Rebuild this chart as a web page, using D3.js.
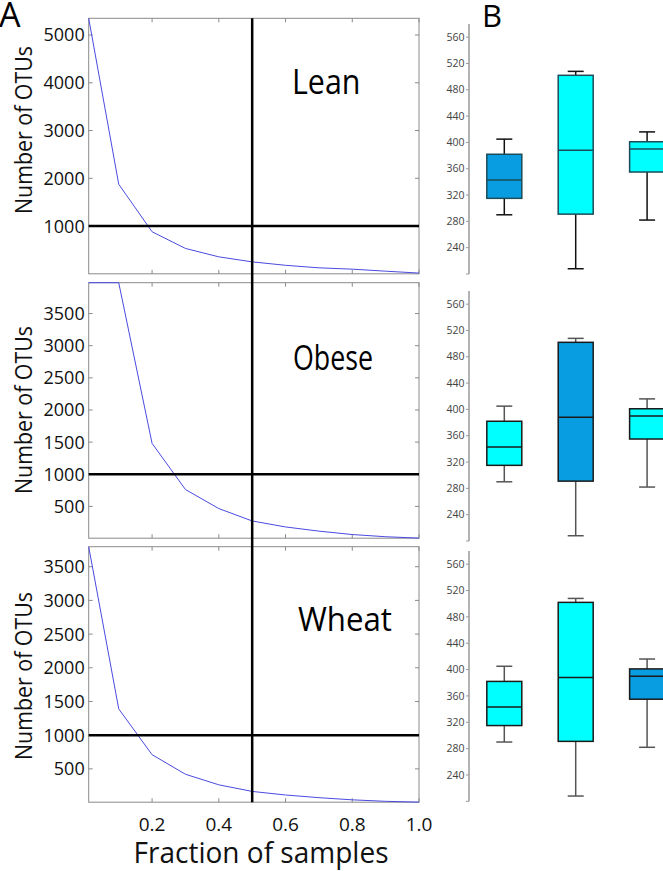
<!DOCTYPE html>
<html>
<head>
<meta charset="utf-8">
<script src="https://cdn.jsdelivr.net/npm/d3@7"></script>
<style>
  html, body { margin: 0; padding: 0; background: #fff; }
  svg { display: block; }
  text { font-family: "Open Sans", "Noto Sans", sans-serif; }
</style>
</head>
<body>
<svg id="chart" width="663" height="871"></svg>
<script>
// ---------- DATA ----------
const fractions = [0.01, 0.1, 0.2, 0.3, 0.4, 0.5, 0.6, 0.7, 0.8, 0.9, 1.0];
const leanOTUs  = [5350, 1876, 880, 531, 355, 250, 178, 125, 97, 55, 15];
const obeseOTUs = [6500, 4100, 1480, 762, 466, 273, 180, 115, 62, 28, 6];
const wheatOTUs = [3797, 1390, 710, 420, 263, 165, 112, 72, 40, 18, 6];
const groupNames = ["Lean", "Obese", "Wheat"];
const yDomainsA = [[0, 5350], [5, 3980], [5, 3797]];
const yTicksLean = [1000, 2000, 3000, 4000, 5000];
const yTicksObese = [500, 1000, 1500, 2000, 2500, 3000, 3500];
const yTicksWheat = [500, 1000, 1500, 2000, 2500, 3000, 3500];
const xTicks = [0.2, 0.4, 0.6, 0.8, 1.0];
const xTickLabels = ["0.2", "0.4", "0.6", "0.8", "1.0"];
const otuThreshold = 1000;
const fractionCut = 0.5;

const boxCategories = ["G1", "G2", "G3"];
const boxMin = [290, 208, 282];
const boxQ1  = [315, 291, 355];
const boxMed = [343, 388, 390];
const boxQ3  = [382, 502, 401];
const boxMax = [405, 508, 416];
const bTicks = [200, 240, 280, 320, 360, 400, 440, 480, 520, 560];
const bDomain = [200, 580];

// ---------- LAYOUT ----------
const svg = d3.select("#chart");
const xL = 88.7, xR = 419;
const panelTops = [18.3, 282.7, 546.7];
const panelH = 255.5;
const seriesA = [leanOTUs, obeseOTUs, wheatOTUs];
const ticksA = [yTicksLean, yTicksObese, yTicksWheat];
const labelCY = [130, 410, 676];
const nameBox = [
  {x: 292, y: 94, w: 68.5, fs: 35},
  {x: 293, y: 370, w: 80, fs: 35},
  {x: 298, y: 631, w: 94, fs: 33}
];
const frameColor = "#8a8a8a";

const x = d3.scaleLinear().domain([0.01, 1.0]).range([xL, xR]);

seriesA.forEach((vals, i) => {
  const top = panelTops[i], bot = top + panelH;
  const y = d3.scaleLinear().domain(yDomainsA[i]).range([bot, top]).clamp(true);
  const g = svg.append("g");

  // frame
  g.append("rect").attr("x", xL).attr("y", top).attr("width", xR - xL).attr("height", panelH)
    .attr("fill", "none").attr("stroke", frameColor).attr("stroke-width", 1);

  // y ticks (left & right, inward)
  const yt = ticksA[i];
  g.selectAll(".ytl").data(yt).join("line")
    .attr("x1", xL).attr("x2", xL + 4).attr("y1", d => y(d)).attr("y2", d => y(d))
    .attr("stroke", frameColor);
  g.selectAll(".ytr").data(yt).join("line")
    .attr("x1", xR).attr("x2", xR - 4).attr("y1", d => y(d)).attr("y2", d => y(d))
    .attr("stroke", frameColor);
  g.selectAll(".ylab").data(yt).join("text")
    .attr("x", xL - 4).attr("y", d => y(d)).attr("dy", "0.36em")
    .attr("text-anchor", "end").attr("font-size", 18).attr("fill", "#111")
    .text(d => d);

  // x ticks (top & bottom, inward)
  g.selectAll(".xtb").data(xTicks).join("line")
    .attr("x1", d => x(d)).attr("x2", d => x(d)).attr("y1", bot).attr("y2", bot - 4)
    .attr("stroke", frameColor);
  g.selectAll(".xtt").data(xTicks).join("line")
    .attr("x1", d => x(d)).attr("x2", d => x(d)).attr("y1", top).attr("y2", top + 4)
    .attr("stroke", frameColor);

  // curve
  const line = d3.line().x((d, j) => x(fractions[j])).y(d => y(d));
  g.append("path").datum(vals).attr("d", line)
    .attr("fill", "none").attr("stroke", "#4a4ae0").attr("stroke-width", 1);

  // threshold line
  g.append("line").attr("x1", xL).attr("x2", xR)
    .attr("y1", y(otuThreshold)).attr("y2", y(otuThreshold))
    .attr("stroke", "#000").attr("stroke-width", 2.5);

  // y label
  g.append("text")
    .attr("transform", `translate(32,${labelCY[i]}) rotate(-90)`)
    .attr("text-anchor", "middle").attr("font-size", 23).attr("fill", "#111")
    .attr("textLength", 168).attr("lengthAdjust", "spacingAndGlyphs")
    .text("Number of OTUs");

  // group name
  const nb = nameBox[i];
  g.append("text").attr("x", nb.x).attr("y", nb.y)
    .attr("font-size", nb.fs).attr("fill", "#000")
    .attr("textLength", nb.w).attr("lengthAdjust", "spacingAndGlyphs")
    .text(groupNames[i]);
});

// vertical cut line through all panels
svg.append("line").attr("x1", x(fractionCut)).attr("x2", x(fractionCut))
  .attr("y1", panelTops[0]).attr("y2", panelTops[2] + panelH)
  .attr("stroke", "#000").attr("stroke-width", 2.5);

// x tick labels
const botA = panelTops[2] + panelH;
svg.selectAll(".xlab").data(xTicks).join("text")
  .attr("x", d => x(d)).attr("y", botA + 29)
  .attr("text-anchor", "middle").attr("font-size", 19).attr("fill", "#111")
  .text((d, j) => xTickLabels[j]);

svg.append("text").attr("x", 261).attr("y", 863)
  .attr("text-anchor", "middle").attr("font-size", 30).attr("fill", "#111")
  .attr("textLength", 255).attr("lengthAdjust", "spacingAndGlyphs")
  .text("Fraction of samples");

// panel letters
svg.append("text").attr("x", -1).attr("y", 27).attr("font-size", 34).attr("fill", "#000").text("A");
svg.append("text").attr("x", 482).attr("y", 27).attr("font-size", 31).attr("fill", "#000").text("B");

// ---------- PANEL B ----------
const bRanges = [[274, 24], [541, 291], [801.3, 551]];
const axisX = 469;
const xb = d3.scaleBand().domain(boxCategories).range([468.6, 682.8]).paddingInner(0.51).paddingOuter(0.255);
const darkFill = "#079de0", lightFill = "#00ffff";
const strokeCols = ["#1b4c58", "#1a1a1a", "#1a1a1a"];
const whiskerCols = ["#111", "#555", "#555"];

bRanges.forEach((rng, p) => {
  const yb = d3.scaleLinear().domain(bDomain).range(rng);
  const g = svg.append("g");
  // axis
  g.append("line").attr("x1", axisX).attr("x2", axisX)
    .attr("y1", yb(bDomain[1])).attr("y2", yb(bDomain[0]))
    .attr("stroke", "#9a9a9a").attr("stroke-width", 1.5);
  g.selectAll(".bt").data(bTicks).join("line")
    .attr("x1", axisX - 3).attr("x2", axisX).attr("y1", d => yb(d)).attr("y2", d => yb(d))
    .attr("stroke", "#9a9a9a").attr("stroke-width", 1);
  g.selectAll(".bl").data(bTicks.filter(d => d >= 240)).join("text")
    .attr("x", axisX - 4.5).attr("y", d => yb(d)).attr("dy", "0.35em")
    .attr("text-anchor", "end").attr("font-size", 10.5).attr("fill", "#444")
    .text(d => d);

  const bw = xb.bandwidth();
  boxCategories.forEach((c, k) => {
    const cx = xb(c) + bw / 2;
    // whiskers
    g.append("line").attr("x1", cx).attr("x2", cx).attr("y1", yb(boxMax[k])).attr("y2", yb(boxQ3[k]))
      .attr("stroke", whiskerCols[p]).attr("stroke-width", 1.5);
    g.append("line").attr("x1", cx).attr("x2", cx).attr("y1", yb(boxQ1[k])).attr("y2", yb(boxMin[k]))
      .attr("stroke", whiskerCols[p]).attr("stroke-width", 1.5);
    [boxMax[k], boxMin[k]].forEach(v => {
      g.append("line").attr("x1", cx - 8).attr("x2", cx + 8).attr("y1", yb(v)).attr("y2", yb(v))
        .attr("stroke", whiskerCols[p]).attr("stroke-width", 1.5);
    });
    // box
    g.append("rect").attr("x", xb(c)).attr("y", yb(boxQ3[k]))
      .attr("width", bw).attr("height", yb(boxQ1[k]) - yb(boxQ3[k]))
      .attr("fill", k === p ? darkFill : lightFill)
      .attr("stroke", strokeCols[p]).attr("stroke-width", 1.5);
    g.append("line").attr("x1", xb(c)).attr("x2", xb(c) + bw)
      .attr("y1", yb(boxMed[k])).attr("y2", yb(boxMed[k]))
      .attr("stroke", strokeCols[p]).attr("stroke-width", 1.5);
  });
});
</script>
</body>
</html>
